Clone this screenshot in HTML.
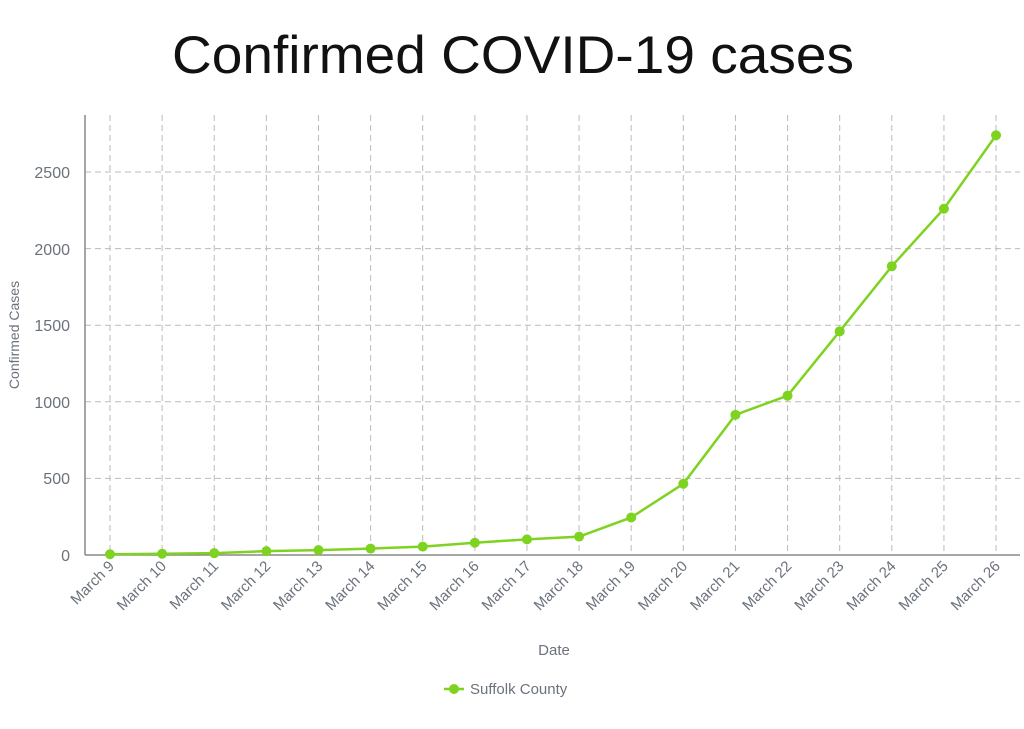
<!DOCTYPE html>
<html><head><meta charset="utf-8"><style>
html,body{margin:0;padding:0;background:#fff;}
svg{display:block;}
text{font-family:"Liberation Sans",sans-serif;fill:#6b727c;}
</style></head><body>
<svg width="1024" height="729" viewBox="0 0 1024 729" xmlns="http://www.w3.org/2000/svg">
<text x="513" y="73" text-anchor="middle" textLength="682" lengthAdjust="spacingAndGlyphs" style="font-size:53px;fill:#111;">Confirmed COVID-19 cases</text>
<g stroke="#bbb" stroke-width="1" stroke-dasharray="6,4">
<line x1="85" y1="478.4" x2="1020" y2="478.4"/>
<line x1="85" y1="401.8" x2="1020" y2="401.8"/>
<line x1="85" y1="325.2" x2="1020" y2="325.2"/>
<line x1="85" y1="248.6" x2="1020" y2="248.6"/>
<line x1="85" y1="172" x2="1020" y2="172"/>
</g>
<g id="vg" stroke="#bbb" stroke-width="1" stroke-dasharray="6,4"></g>
<line x1="85" y1="115" x2="85" y2="555" stroke="#888" stroke-width="1.5"/>
<line x1="85" y1="555" x2="1020" y2="555" stroke="#888" stroke-width="1.5"/>
<g style="font-size:16px" text-anchor="end">
<text x="70" y="561">0</text>
<text x="70" y="484">500</text>
<text x="70" y="408">1000</text>
<text x="70" y="331">1500</text>
<text x="70" y="255">2000</text>
<text x="70" y="178">2500</text>
</g>
<text transform="translate(19,335) rotate(-90)" text-anchor="middle" style="font-size:14px">Confirmed Cases</text>
<g id="xl" style="font-size:15px" text-anchor="end"></g>
<text x="554" y="655" text-anchor="middle" style="font-size:15px">Date</text>
<line x1="444" y1="689" x2="464" y2="689" stroke="#7ed321" stroke-width="2.5"/>
<circle cx="454" cy="689" r="5" fill="#7ed321"/>
<text x="470" y="694" style="font-size:15px">Suffolk County</text>
<polyline id="ln" fill="none" stroke="#7ed321" stroke-width="2.5"/>
<g id="pts" fill="#7ed321"></g>
<script>
var d=[5,8,12,25,32,42,55,80,102,120,245,465,915,1040,1460,1885,2260,2740];
var ns="http://www.w3.org/2000/svg",pts=[],vg=document.getElementById('vg'),xl=document.getElementById('xl'),pg=document.getElementById('pts');
for(var i=0;i<18;i++){var x=110+i*52.12,y=555-d[i]*0.1532;pts.push(x+","+y);
var l=document.createElementNS(ns,'line');l.setAttribute('x1',x);l.setAttribute('x2',x);l.setAttribute('y1',115);l.setAttribute('y2',555);vg.appendChild(l);
var t=document.createElementNS(ns,'text');t.setAttribute('transform','translate('+(x+5)+',567) rotate(-45)');t.textContent='March '+(9+i);xl.appendChild(t);
var c=document.createElementNS(ns,'circle');c.setAttribute('cx',x);c.setAttribute('cy',y);c.setAttribute('r',5);pg.appendChild(c);}
document.getElementById('ln').setAttribute('points',pts.join(' '));
</script>
</svg>
</body></html>
